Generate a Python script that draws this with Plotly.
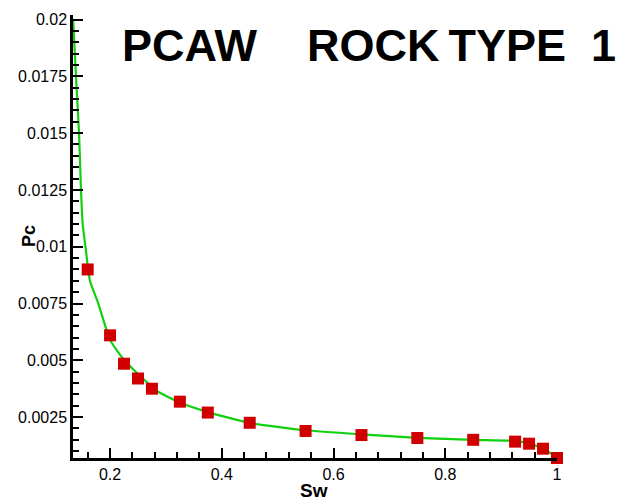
import plotly.graph_objects as go

# Measured capillary pressure (Pc) against water saturation (Sw)
sw_data = [0.16, 0.20, 0.225, 0.25, 0.275, 0.325, 0.375, 0.45, 0.55, 0.65, 0.75, 0.85, 0.925, 0.95, 0.975, 1.0]
pc_data = [0.0090, 0.0061, 0.00485, 0.0042, 0.00375, 0.00318, 0.0027, 0.00225, 0.00189, 0.00171, 0.00158, 0.0015, 0.00142, 0.00133, 0.00111, 0.0007]

# Fitted curve
sw_fit = [0.134, 0.139, 0.1445, 0.148, 0.151, 0.156, 0.164, 0.179, 0.2, 0.224, 0.254, 0.284, 0.325,
          0.375, 0.45, 0.55, 0.65, 0.75, 0.85, 0.925, 0.955, 0.98, 1.0]
pc_fit = [0.0200, 0.0175, 0.0150, 0.0125, 0.0110, 0.0100, 0.0085, 0.0075, 0.0059, 0.00505, 0.00431, 0.00365, 0.00314,
          0.00272, 0.00225, 0.00192, 0.00174, 0.00159, 0.0015, 0.00145, 0.0013, 0.00105, 0.0007]

x_ticks = [0.2, 0.4, 0.6, 0.8, 1.0]
x_labels = ["0.2", "0.4", "0.6", "0.8", "1"]
y_ticks = [0.0025, 0.005, 0.0075, 0.01, 0.0125, 0.015, 0.0175, 0.02]
y_labels = ["0.0025", "0.005", "0.0075", "0.01", "0.0125", "0.015", "0.0175", "0.02"]

title_text = "PCAW\u00a0\u00a0\u00a0\u00a0ROCK\u2009TYPE\u00a0\u00a01"

FONT = "Liberation Sans, Arial, sans-serif"

# plot area in pixels
L, R, T, B = 73, 80, 15, 44
W, H = 637, 502
PW, PH = W - L - R, H - T - B


def px_x(px):
    return (px - L) / PW


def px_y(py):
    return (H - B - py) / PH


fig = go.Figure()
fig.add_trace(go.Scatter(
    x=sw_fit, y=pc_fit, mode="lines",
    line=dict(color="#10d010", width=2.2, shape="spline", smoothing=0.5),
    hoverinfo="skip", showlegend=False,
))
fig.add_trace(go.Scatter(
    x=sw_data, y=pc_data, mode="markers",
    marker=dict(symbol="square", size=12, color="#d00000", line=dict(width=0)),
    cliponaxis=False, showlegend=False,
))

axis_common = dict(
    showline=True, linecolor="black", linewidth=2.5, mirror=False,
    showgrid=False, zeroline=False, automargin=False,
    ticks="inside", ticklen=10, tickwidth=2, tickcolor="black",
    tickfont=dict(family=FONT, size=16, color="black"),
)

fig.update_layout(
    width=W, height=H,
    margin=dict(l=L, r=R, t=T, b=B),
    paper_bgcolor="white", plot_bgcolor="white",
    xaxis=dict(
        range=[0.1337, 1.0], tickmode="array", tickvals=x_ticks, ticktext=x_labels,
        minor=dict(ticks="inside", ticklen=6, tickwidth=1.5, tickcolor="black", dtick=0.04, tick0=0),
        **axis_common,
    ),
    yaxis=dict(
        range=[0.0007, 0.0202], tickmode="array", tickvals=y_ticks, ticktext=y_labels,
        minor=dict(ticks="inside", ticklen=6, tickwidth=1.5, tickcolor="black", dtick=0.0005, tick0=0),
        **axis_common,
    ),
    annotations=[
        dict(
            text="<b>" + title_text + "</b>",
            xref="paper", yref="paper",
            x=px_x(120), y=px_y(46),
            xanchor="left", yanchor="middle",
            showarrow=False,
            font=dict(family=FONT, size=45, color="black"),
        ),
        dict(
            text="<b>Sw</b>",
            xref="paper", yref="paper",
            x=px_x(314), y=px_y(490),
            xanchor="center", yanchor="middle",
            showarrow=False,
            font=dict(family=FONT, size=19, color="black"),
        ),
        dict(
            text="<b>Pc</b>",
            xref="paper", yref="paper",
            x=px_x(29), y=px_y(236),
            xanchor="center", yanchor="middle", textangle=-90,
            showarrow=False,
            font=dict(family=FONT, size=18, color="black"),
        ),
    ],
)

fig.write_html("out.html")
